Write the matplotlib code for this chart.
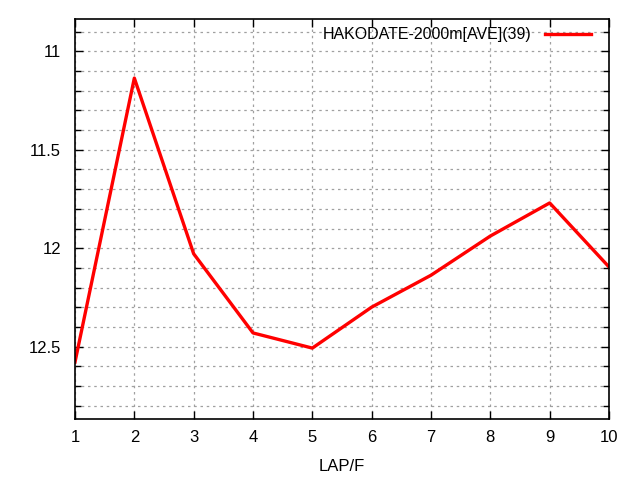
import matplotlib
matplotlib.use('Agg')
import matplotlib.pyplot as plt
from matplotlib.ticker import MultipleLocator

laps = [1, 2, 3, 4, 5, 6, 7, 8, 9, 10]
times = [12.578, 11.136, 12.028, 12.43, 12.507, 12.299, 12.137, 11.938, 11.770, 12.095]
label = 'HAKODATE-2000m[AVE](39)'

plt.rcParams['font.family'] = ['Liberation Sans', 'DejaVu Sans']
plt.rcParams['font.size'] = 12

fig = plt.figure(figsize=(6.4, 4.8), dpi=100)
ax = fig.add_axes([75/640, 1-419/480, (609-75)/640, (419-19)/480])

ax.plot(laps, times, color='#ff0000', lw=2.4, label=label)

ax.set_xlim(1, 10)
ax.set_ylim(12.867, 10.836)
ax.xaxis.set_major_locator(MultipleLocator(1))
ax.yaxis.set_major_locator(MultipleLocator(0.5))
ax.yaxis.set_minor_locator(MultipleLocator(0.1))
ax.yaxis.set_major_formatter(plt.FuncFormatter(lambda v, p: '%g' % v))

ax.tick_params(which='both', direction='in', top=True, right=True, width=1, labelsize=12)
ax.tick_params(which='major', length=6, pad=8)
ax.tick_params(which='minor', length=4)
ax.tick_params(axis='y', pad=10)

ax.grid(True, which='both', color='#a0a0a0', linestyle=(0, (2, 3)), lw=0.9)
for s in ax.spines.values():
    s.set_linewidth(1.2)

ax.set_xlabel('LAP/F', labelpad=10)

leg = ax.legend(loc='upper right', bbox_to_anchor=(0.972, 0.987), frameon=False,
                markerfirst=False, handlelength=2.9, borderaxespad=0, borderpad=0.2,
                handletextpad=0.8, fontsize=11.5)

fig.savefig('out.png', dpi=100)
